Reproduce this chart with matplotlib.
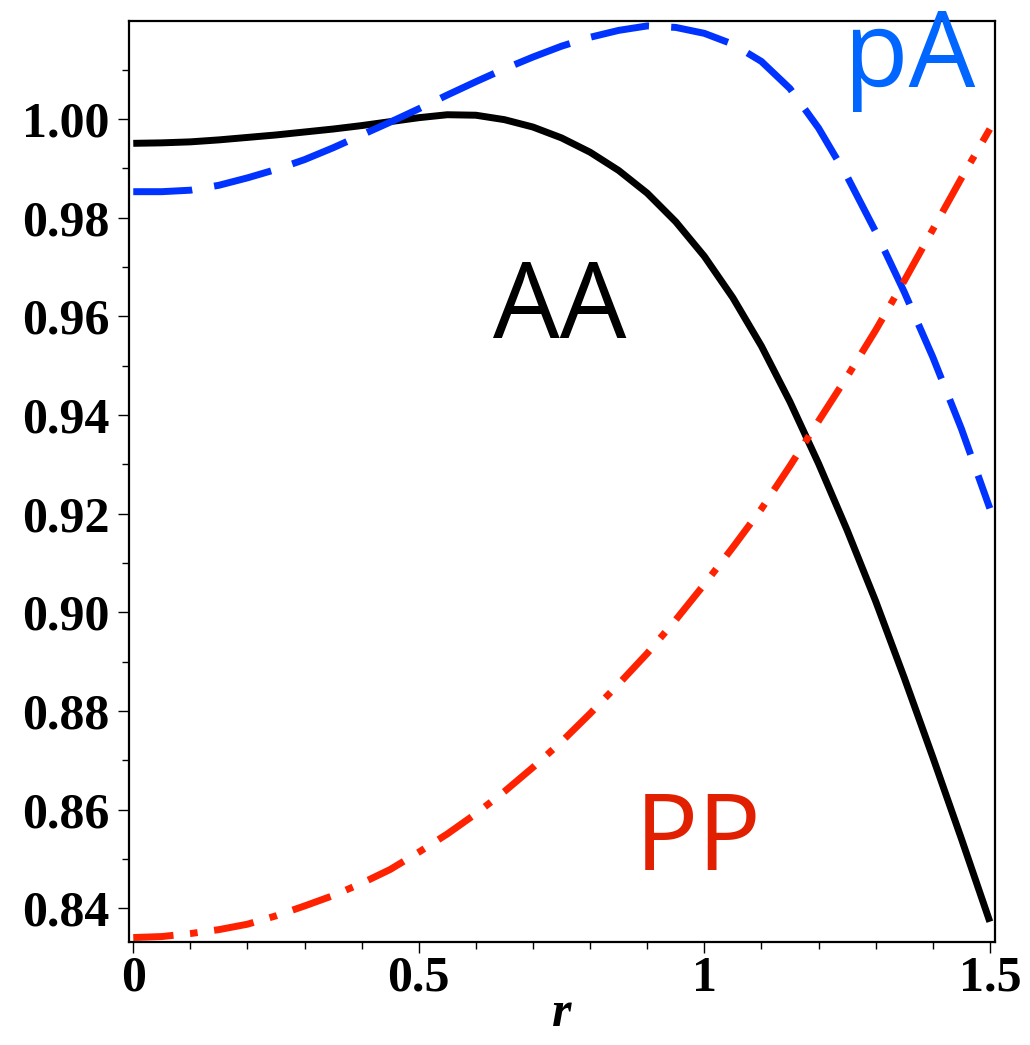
import numpy as np
import matplotlib
matplotlib.use("Agg")
import matplotlib.pyplot as plt
from matplotlib.ticker import MultipleLocator, FixedLocator

# Data
r = np.arange(0, 31) * 0.05

aa = [0.9951, 0.9952, 0.9954, 0.9958, 0.9963, 0.9968, 0.9974, 0.9980, 0.9987, 0.9995,
      1.0003, 1.0009, 1.0008, 0.9999, 0.9984, 0.9962, 0.9933, 0.9896, 0.9850, 0.9792,
      0.9722, 0.9638, 0.9540, 0.9427, 0.9302, 0.9167, 0.9023, 0.8868, 0.8707, 0.8542,
      0.8373]

pa = [0.9853, 0.9853, 0.9856, 0.9866, 0.9881, 0.9898, 0.9918, 0.9942, 0.9968, 0.9994,
      1.0021, 1.0049, 1.0076, 1.0102, 1.0126, 1.0148, 1.0166, 1.0180, 1.0189, 1.0186,
      1.0174, 1.0152, 1.0117, 1.0062, 0.9982, 0.9884, 0.9772, 0.9650, 0.9518, 0.9373,
      0.9211]

pp = [0.8341, 0.8343, 0.8349, 0.8357, 0.8368, 0.8385, 0.8405, 0.8426, 0.8451, 0.8479,
      0.8514, 0.8551, 0.8592, 0.8637, 0.8686, 0.8738, 0.8795, 0.8855, 0.8917, 0.8985,
      0.9057, 0.9132, 0.9210, 0.9297, 0.9388, 0.9478, 0.9572, 0.9672, 0.9776, 0.9880,
      0.9980]

x_ticks = [0, 0.5, 1, 1.5]
x_labels = ["0", "0.5", "1", "1.5"]
y_ticks = [0.84, 0.86, 0.88, 0.90, 0.92, 0.94, 0.96, 0.98, 1.00]

fig = plt.figure(figsize=(10.30, 10.45), dpi=100)
ax = fig.add_axes([0.1255, 0.0986, 0.8405, 0.8813])

ax.plot(r, aa, color="black", lw=5, solid_capstyle="butt")
ax.plot(r, pa, color="#0033ff", lw=5, dashes=(8.5, 3.2), dash_capstyle="butt")
ax.plot(r, pp, color="#ff2200", lw=5, dashes=(5.8, 2.4, 1.1, 2.4), dash_capstyle="butt")

ax.set_xlim(-0.007, 1.509)
ax.set_ylim(0.8332, 1.0199)

ax.xaxis.set_major_locator(FixedLocator(x_ticks))
ax.set_xticklabels(x_labels)
ax.xaxis.set_minor_locator(MultipleLocator(0.1))
ax.yaxis.set_major_locator(FixedLocator(y_ticks))
ax.set_yticklabels(["%.2f" % v for v in y_ticks])
ax.yaxis.set_minor_locator(MultipleLocator(0.01))

for lab in ax.get_xticklabels() + ax.get_yticklabels():
    lab.set_fontfamily("Liberation Serif")
    lab.set_fontweight("bold")
    lab.set_fontsize(36)

ax.tick_params(which="major", direction="out", length=8, width=1, pad=6)
ax.tick_params(axis="x", which="major", pad=2)
ax.tick_params(which="minor", direction="out", length=5, width=1)
for s in ax.spines.values():
    s.set_linewidth(1.6)

ax.set_xlabel("r", fontfamily="Liberation Serif", fontstyle="italic",
              fontweight="bold", fontsize=36, labelpad=-8)

# curve labels
ax.text(0.747, 0.9556, "AA", color="black", fontsize=76, fontfamily="Open Sans",
        ha="center", va="baseline")
ax.text(0.989, 0.8478, "PP", color="#e02000", fontsize=76, fontfamily="Open Sans",
        ha="center", va="baseline")
ax.text(1.360, 1.0065, "pA", color="#0066ff", fontsize=76, fontfamily="Open Sans",
        ha="center", va="baseline", clip_on=False)

fig.savefig("out.png", dpi=100)
